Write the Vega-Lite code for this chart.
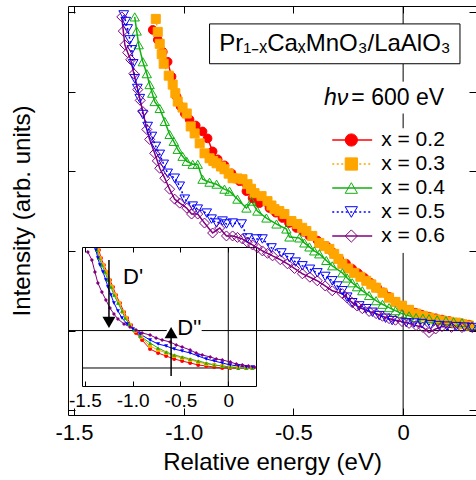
{
  "$schema": "https://vega.github.io/schema/vega-lite/v6.json",
  "width": 408,
  "height": 409,
  "autosize": {"type": "none"},
  "padding": {"left": 68, "top": 6, "right": 0, "bottom": 65},
  "background": "white",
  "config": {
    "font": "Liberation Sans",
    "view": {"stroke": "black", "strokeWidth": 1},
    "legend": {"disable": true},
    "axis": {"grid": false, "domain": false, "tickColor": "black", "tickWidth": 1, "labelColor": "black", "titleColor": "black", "titleFontWeight": "normal", "domainColor": "black", "labelFont": "Liberation Sans", "titleFont": "Liberation Sans"}
  },
  "datasets": {
    "vseg": [{"from": 4.075, "to": 3.85}, {"from": 3.35, "to": 3.125}, {"from": 2.725, "to": 2.54}, {"from": 0.975, "to": -1.06}],
    "hseg": [{"from": -1.527, "to": -1.077}, {"from": -0.918, "to": 0.332}],
    "legend": [{"series": "x = 0.2"}, {"series": "x = 0.3"}, {"series": "x = 0.4"}, {"series": "x = 0.5"}, {"series": "x = 0.6"}],
    "main": [
      {"series":"x = 0.2","energy":-1.141,"intensity":3.775},{"series":"x = 0.2","energy":-1.118,"intensity":3.65},{"series":"x = 0.2","energy":-1.095,"intensity":3.5},{"series":"x = 0.2","energy":-1.073,"intensity":3.375},{"series":"x = 0.2","energy":-1.055,"intensity":3.188},{"series":"x = 0.2","energy":-1.032,"intensity":2.938},{"series":"x = 0.2","energy":-1.014,"intensity":2.813},{"series":"x = 0.2","energy":-0.995,"intensity":2.725},{"series":"x = 0.2","energy":-0.973,"intensity":2.65},{"series":"x = 0.2","energy":-0.945,"intensity":2.575},{"series":"x = 0.2","energy":-0.914,"intensity":2.5},{"series":"x = 0.2","energy":-0.891,"intensity":2.413},{"series":"x = 0.2","energy":-0.868,"intensity":2.25},{"series":"x = 0.2","energy":-0.845,"intensity":2.15},{"series":"x = 0.2","energy":-0.814,"intensity":2.075},{"series":"x = 0.2","energy":-0.782,"intensity":1.975},{"series":"x = 0.2","energy":-0.745,"intensity":1.875},{"series":"x = 0.2","energy":-0.714,"intensity":1.75},{"series":"x = 0.2","energy":-0.686,"intensity":1.663},{"series":"x = 0.2","energy":-0.655,"intensity":1.6},{"series":"x = 0.2","energy":-0.609,"intensity":1.538},{"series":"x = 0.2","energy":-0.58,"intensity":1.48},{"series":"x = 0.2","energy":-0.55,"intensity":1.413},{"series":"x = 0.2","energy":-0.52,"intensity":1.35},{"series":"x = 0.2","energy":-0.486,"intensity":1.288},{"series":"x = 0.2","energy":-0.455,"intensity":1.24},{"series":"x = 0.2","energy":-0.427,"intensity":1.188},{"series":"x = 0.2","energy":-0.39,"intensity":1.13},{"series":"x = 0.2","energy":-0.35,"intensity":1.063},{"series":"x = 0.2","energy":-0.32,"intensity":0.98},{"series":"x = 0.2","energy":-0.291,"intensity":0.9},{"series":"x = 0.2","energy":-0.26,"intensity":0.84},{"series":"x = 0.2","energy":-0.232,"intensity":0.775},{"series":"x = 0.2","energy":-0.205,"intensity":0.72},{"series":"x = 0.2","energy":-0.177,"intensity":0.663},{"series":"x = 0.2","energy":-0.148,"intensity":0.6},{"series":"x = 0.2","energy":-0.118,"intensity":0.538},{"series":"x = 0.2","energy":-0.09,"intensity":0.48},{"series":"x = 0.2","energy":-0.064,"intensity":0.425},{"series":"x = 0.2","energy":-0.035,"intensity":0.36},{"series":"x = 0.2","energy":-0.005,"intensity":0.3},{"series":"x = 0.2","energy":0.025,"intensity":0.26},{"series":"x = 0.2","energy":0.055,"intensity":0.225},{"series":"x = 0.2","energy":0.085,"intensity":0.2},{"series":"x = 0.2","energy":0.118,"intensity":0.175},{"series":"x = 0.2","energy":0.148,"intensity":0.155},{"series":"x = 0.2","energy":0.177,"intensity":0.138},{"series":"x = 0.2","energy":0.21,"intensity":0.12},{"series":"x = 0.2","energy":0.241,"intensity":0.1},{"series":"x = 0.2","energy":0.27,"intensity":0.09},{"series":"x = 0.2","energy":0.3,"intensity":0.075},
      {"series":"x = 0.3","energy":-1.127,"intensity":3.913},{"series":"x = 0.3","energy":-1.118,"intensity":3.75},{"series":"x = 0.3","energy":-1.109,"intensity":3.6},{"series":"x = 0.3","energy":-1.1,"intensity":3.47},{"series":"x = 0.3","energy":-1.091,"intensity":3.35},{"series":"x = 0.3","energy":-1.068,"intensity":3.2},{"series":"x = 0.3","energy":-1.05,"intensity":3.088},{"series":"x = 0.3","energy":-1.038,"intensity":2.98},{"series":"x = 0.3","energy":-1.027,"intensity":2.875},{"series":"x = 0.3","energy":-1.005,"intensity":2.8},{"series":"x = 0.3","energy":-0.986,"intensity":2.725},{"series":"x = 0.3","energy":-0.968,"intensity":2.563},{"series":"x = 0.3","energy":-0.95,"intensity":2.475},{"series":"x = 0.3","energy":-0.927,"intensity":2.35},{"series":"x = 0.3","energy":-0.905,"intensity":2.225},{"series":"x = 0.3","energy":-0.882,"intensity":2.163},{"series":"x = 0.3","energy":-0.865,"intensity":2.13},{"series":"x = 0.3","energy":-0.85,"intensity":2.1},{"series":"x = 0.3","energy":-0.83,"intensity":2.06},{"series":"x = 0.3","energy":-0.814,"intensity":2.025},{"series":"x = 0.3","energy":-0.795,"intensity":1.97},{"series":"x = 0.3","energy":-0.777,"intensity":1.913},{"series":"x = 0.3","energy":-0.755,"intensity":1.91},{"series":"x = 0.3","energy":-0.732,"intensity":1.9},{"series":"x = 0.3","energy":-0.709,"intensity":1.838},{"series":"x = 0.3","energy":-0.693,"intensity":1.78},{"series":"x = 0.3","energy":-0.677,"intensity":1.725},{"series":"x = 0.3","energy":-0.645,"intensity":1.688},{"series":"x = 0.3","energy":-0.618,"intensity":1.625},{"series":"x = 0.3","energy":-0.6,"intensity":1.57},{"series":"x = 0.3","energy":-0.586,"intensity":1.525},{"series":"x = 0.3","energy":-0.564,"intensity":1.5},{"series":"x = 0.3","energy":-0.541,"intensity":1.463},{"series":"x = 0.3","energy":-0.509,"intensity":1.375},{"series":"x = 0.3","energy":-0.482,"intensity":1.338},{"series":"x = 0.3","energy":-0.46,"intensity":1.29},{"series":"x = 0.3","energy":-0.441,"intensity":1.25},{"series":"x = 0.3","energy":-0.414,"intensity":1.188},{"series":"x = 0.3","energy":-0.382,"intensity":1.1},{"series":"x = 0.3","energy":-0.36,"intensity":1.06},{"series":"x = 0.3","energy":-0.336,"intensity":1.025},{"series":"x = 0.3","energy":-0.314,"intensity":0.963},{"series":"x = 0.3","energy":-0.295,"intensity":0.9},{"series":"x = 0.3","energy":-0.277,"intensity":0.838},{"series":"x = 0.3","energy":-0.25,"intensity":0.78},{"series":"x = 0.3","energy":-0.223,"intensity":0.725},{"series":"x = 0.3","energy":-0.195,"intensity":0.675},{"series":"x = 0.3","energy":-0.168,"intensity":0.625},{"series":"x = 0.3","energy":-0.145,"intensity":0.58},{"series":"x = 0.3","energy":-0.123,"intensity":0.538},{"series":"x = 0.3","energy":-0.094,"intensity":0.475},{"series":"x = 0.3","energy":-0.064,"intensity":0.413},{"series":"x = 0.3","energy":-0.035,"intensity":0.36},{"series":"x = 0.3","energy":-0.005,"intensity":0.313},{"series":"x = 0.3","energy":0.027,"intensity":0.26},{"series":"x = 0.3","energy":0.059,"intensity":0.213},{"series":"x = 0.3","energy":0.09,"intensity":0.185},{"series":"x = 0.3","energy":0.118,"intensity":0.163},{"series":"x = 0.3","energy":0.148,"intensity":0.14},{"series":"x = 0.3","energy":0.177,"intensity":0.125},{"series":"x = 0.3","energy":0.21,"intensity":0.11},{"series":"x = 0.3","energy":0.241,"intensity":0.1},{"series":"x = 0.3","energy":0.27,"intensity":0.08},{"series":"x = 0.3","energy":0.3,"intensity":0.063},
      {"series":"x = 0.4","energy":-1.223,"intensity":3.938},{"series":"x = 0.4","energy":-1.214,"intensity":3.76},{"series":"x = 0.4","energy":-1.205,"intensity":3.588},{"series":"x = 0.4","energy":-1.186,"intensity":3.375},{"series":"x = 0.4","energy":-1.168,"intensity":3.225},{"series":"x = 0.4","energy":-1.155,"intensity":3.088},{"series":"x = 0.4","energy":-1.143,"intensity":2.98},{"series":"x = 0.4","energy":-1.132,"intensity":2.875},{"series":"x = 0.4","energy":-1.109,"intensity":2.788},{"series":"x = 0.4","energy":-1.086,"intensity":2.625},{"series":"x = 0.4","energy":-1.064,"intensity":2.463},{"series":"x = 0.4","energy":-1.045,"intensity":2.375},{"series":"x = 0.4","energy":-1.027,"intensity":2.275},{"series":"x = 0.4","energy":-1.005,"intensity":2.188},{"series":"x = 0.4","energy":-0.986,"intensity":2.125},{"series":"x = 0.4","energy":-0.959,"intensity":2.088},{"series":"x = 0.4","energy":-0.936,"intensity":2.088},{"series":"x = 0.4","energy":-0.914,"intensity":1.9},{"series":"x = 0.4","energy":-0.882,"intensity":1.863},{"series":"x = 0.4","energy":-0.85,"intensity":1.838},{"series":"x = 0.4","energy":-0.814,"intensity":1.775},{"series":"x = 0.4","energy":-0.791,"intensity":1.75},{"series":"x = 0.4","energy":-0.755,"intensity":1.65},{"series":"x = 0.4","energy":-0.714,"intensity":1.538},{"series":"x = 0.4","energy":-0.691,"intensity":1.625},{"series":"x = 0.4","energy":-0.664,"intensity":1.5},{"series":"x = 0.4","energy":-0.623,"intensity":1.413},{"series":"x = 0.4","energy":-0.577,"intensity":1.338},{"series":"x = 0.4","energy":-0.532,"intensity":1.275},{"series":"x = 0.4","energy":-0.518,"intensity":1.175},{"series":"x = 0.4","energy":-0.473,"intensity":1.163},{"series":"x = 0.4","energy":-0.45,"intensity":1.1},{"series":"x = 0.4","energy":-0.427,"intensity":1.05},{"series":"x = 0.4","energy":-0.405,"intensity":1.0},{"series":"x = 0.4","energy":-0.382,"intensity":0.963},{"series":"x = 0.4","energy":-0.35,"intensity":0.88},{"series":"x = 0.4","energy":-0.323,"intensity":0.813},{"series":"x = 0.4","energy":-0.277,"intensity":0.725},{"series":"x = 0.4","energy":-0.255,"intensity":0.66},{"series":"x = 0.4","energy":-0.232,"intensity":0.6},{"series":"x = 0.4","energy":-0.21,"intensity":0.55},{"series":"x = 0.4","energy":-0.186,"intensity":0.5},{"series":"x = 0.4","energy":-0.155,"intensity":0.44},{"series":"x = 0.4","energy":-0.123,"intensity":0.375},{"series":"x = 0.4","energy":-0.094,"intensity":0.33},{"series":"x = 0.4","energy":-0.064,"intensity":0.288},{"series":"x = 0.4","energy":-0.035,"intensity":0.25},{"series":"x = 0.4","energy":-0.005,"intensity":0.213},{"series":"x = 0.4","energy":0.027,"intensity":0.185},{"series":"x = 0.4","energy":0.059,"intensity":0.163},{"series":"x = 0.4","energy":0.09,"intensity":0.155},{"series":"x = 0.4","energy":0.118,"intensity":0.15},{"series":"x = 0.4","energy":0.155,"intensity":0.135},{"series":"x = 0.4","energy":0.195,"intensity":0.125},{"series":"x = 0.4","energy":0.23,"intensity":0.11},{"series":"x = 0.4","energy":0.268,"intensity":0.1},{"series":"x = 0.4","energy":0.314,"intensity":0.063},
      {"series":"x = 0.5","energy":-1.273,"intensity":3.963},{"series":"x = 0.5","energy":-1.264,"intensity":3.88},{"series":"x = 0.5","energy":-1.255,"intensity":3.788},{"series":"x = 0.5","energy":-1.245,"intensity":3.65},{"series":"x = 0.5","energy":-1.236,"intensity":3.525},{"series":"x = 0.5","energy":-1.23,"intensity":3.35},{"series":"x = 0.5","energy":-1.223,"intensity":3.163},{"series":"x = 0.5","energy":-1.211,"intensity":3.04},{"series":"x = 0.5","energy":-1.2,"intensity":2.913},{"series":"x = 0.5","energy":-1.186,"intensity":2.713},{"series":"x = 0.5","energy":-1.164,"intensity":2.563},{"series":"x = 0.5","energy":-1.145,"intensity":2.438},{"series":"x = 0.5","energy":-1.127,"intensity":2.313},{"series":"x = 0.5","energy":-1.109,"intensity":2.213},{"series":"x = 0.5","energy":-1.091,"intensity":2.088},{"series":"x = 0.5","energy":-1.073,"intensity":1.975},{"series":"x = 0.5","energy":-1.041,"intensity":1.913},{"series":"x = 0.5","energy":-1.018,"intensity":1.813},{"series":"x = 0.5","energy":-0.995,"intensity":1.65},{"series":"x = 0.5","energy":-0.959,"intensity":1.563},{"series":"x = 0.5","energy":-0.936,"intensity":1.525},{"series":"x = 0.5","energy":-0.895,"intensity":1.475},{"series":"x = 0.5","energy":-0.873,"intensity":1.4},{"series":"x = 0.5","energy":-0.85,"intensity":1.35},{"series":"x = 0.5","energy":-0.823,"intensity":1.375},{"series":"x = 0.5","energy":-0.805,"intensity":1.338},{"series":"x = 0.5","energy":-0.777,"intensity":1.35},{"series":"x = 0.5","energy":-0.736,"intensity":1.338},{"series":"x = 0.5","energy":-0.709,"intensity":1.163},{"series":"x = 0.5","energy":-0.668,"intensity":1.15},{"series":"x = 0.5","energy":-0.641,"intensity":1.15},{"series":"x = 0.5","energy":-0.6,"intensity":1.038},{"series":"x = 0.5","energy":-0.555,"intensity":0.975},{"series":"x = 0.5","energy":-0.518,"intensity":0.913},{"series":"x = 0.5","energy":-0.49,"intensity":0.86},{"series":"x = 0.5","energy":-0.459,"intensity":0.813},{"series":"x = 0.5","energy":-0.425,"intensity":0.77},{"series":"x = 0.5","energy":-0.391,"intensity":0.725},{"series":"x = 0.5","energy":-0.355,"intensity":0.68},{"series":"x = 0.5","energy":-0.323,"intensity":0.625},{"series":"x = 0.5","energy":-0.3,"intensity":0.56},{"series":"x = 0.5","energy":-0.277,"intensity":0.5},{"series":"x = 0.5","energy":-0.255,"intensity":0.42},{"series":"x = 0.5","energy":-0.232,"intensity":0.35},{"series":"x = 0.5","energy":-0.2,"intensity":0.31},{"series":"x = 0.5","energy":-0.168,"intensity":0.275},{"series":"x = 0.5","energy":-0.14,"intensity":0.23},{"series":"x = 0.5","energy":-0.109,"intensity":0.188},{"series":"x = 0.5","energy":-0.08,"intensity":0.155},{"series":"x = 0.5","energy":-0.05,"intensity":0.125},{"series":"x = 0.5","energy":0.014,"intensity":0.1},{"series":"x = 0.5","energy":0.05,"intensity":0.095},{"series":"x = 0.5","energy":0.086,"intensity":0.088},{"series":"x = 0.5","energy":0.125,"intensity":0.075},{"series":"x = 0.5","energy":0.164,"intensity":0.063},{"series":"x = 0.5","energy":0.2,"intensity":0.056},{"series":"x = 0.5","energy":0.241,"intensity":0.05},{"series":"x = 0.5","energy":0.28,"intensity":0.044},{"series":"x = 0.5","energy":0.314,"intensity":0.038},
      {"series":"x = 0.6","energy":-1.282,"intensity":3.938},{"series":"x = 0.6","energy":-1.275,"intensity":3.76},{"series":"x = 0.6","energy":-1.268,"intensity":3.588},{"series":"x = 0.6","energy":-1.255,"intensity":3.49},{"series":"x = 0.6","energy":-1.241,"intensity":3.4},{"series":"x = 0.6","energy":-1.227,"intensity":3.225},{"series":"x = 0.6","energy":-1.209,"intensity":3.025},{"series":"x = 0.6","energy":-1.198,"intensity":2.89},{"series":"x = 0.6","energy":-1.186,"intensity":2.75},{"series":"x = 0.6","energy":-1.168,"intensity":2.525},{"series":"x = 0.6","energy":-1.155,"intensity":2.4},{"series":"x = 0.6","energy":-1.132,"intensity":2.225},{"series":"x = 0.6","energy":-1.12,"intensity":2.13},{"series":"x = 0.6","energy":-1.109,"intensity":2.038},{"series":"x = 0.6","energy":-1.086,"intensity":1.913},{"series":"x = 0.6","energy":-1.064,"intensity":1.775},{"series":"x = 0.6","energy":-1.041,"intensity":1.65},{"series":"x = 0.6","energy":-1.018,"intensity":1.6},{"series":"x = 0.6","energy":-0.986,"intensity":1.538},{"series":"x = 0.6","energy":-0.964,"intensity":1.463},{"series":"x = 0.6","energy":-0.936,"intensity":1.463},{"series":"x = 0.6","energy":-0.905,"intensity":1.35},{"series":"x = 0.6","energy":-0.868,"intensity":1.225},{"series":"x = 0.6","energy":-0.836,"intensity":1.288},{"series":"x = 0.6","energy":-0.805,"intensity":1.188},{"series":"x = 0.6","energy":-0.777,"intensity":1.188},{"series":"x = 0.6","energy":-0.755,"intensity":1.17},{"series":"x = 0.6","energy":-0.732,"intensity":1.15},{"series":"x = 0.6","energy":-0.71,"intensity":1.11},{"series":"x = 0.6","energy":-0.686,"intensity":1.075},{"series":"x = 0.6","energy":-0.664,"intensity":1.04},{"series":"x = 0.6","energy":-0.641,"intensity":1.0},{"series":"x = 0.6","energy":-0.618,"intensity":0.97},{"series":"x = 0.6","energy":-0.595,"intensity":0.938},{"series":"x = 0.6","energy":-0.56,"intensity":0.89},{"series":"x = 0.6","energy":-0.527,"intensity":0.838},{"series":"x = 0.6","energy":-0.495,"intensity":0.78},{"series":"x = 0.6","energy":-0.459,"intensity":0.713},{"series":"x = 0.6","energy":-0.425,"intensity":0.67},{"series":"x = 0.6","energy":-0.391,"intensity":0.625},{"series":"x = 0.6","energy":-0.355,"intensity":0.56},{"series":"x = 0.6","energy":-0.323,"intensity":0.5},{"series":"x = 0.6","energy":-0.277,"intensity":0.463},{"series":"x = 0.6","energy":-0.255,"intensity":0.41},{"series":"x = 0.6","energy":-0.232,"intensity":0.35},{"series":"x = 0.6","energy":-0.21,"intensity":0.31},{"series":"x = 0.6","energy":-0.186,"intensity":0.275},{"series":"x = 0.6","energy":-0.155,"intensity":0.24},{"series":"x = 0.6","energy":-0.123,"intensity":0.213},{"series":"x = 0.6","energy":-0.094,"intensity":0.18},{"series":"x = 0.6","energy":-0.064,"intensity":0.15},{"series":"x = 0.6","energy":-0.035,"intensity":0.13},{"series":"x = 0.6","energy":-0.005,"intensity":0.113},{"series":"x = 0.6","energy":0.027,"intensity":0.09},{"series":"x = 0.6","energy":0.059,"intensity":0.063},{"series":"x = 0.6","energy":0.09,"intensity":0.04},{"series":"x = 0.6","energy":0.118,"intensity":-0.025},{"series":"x = 0.6","energy":0.148,"intensity":0.02},{"series":"x = 0.6","energy":0.177,"intensity":0.05},{"series":"x = 0.6","energy":0.22,"intensity":0.04},{"series":"x = 0.6","energy":0.268,"intensity":0.038},{"series":"x = 0.6","energy":0.314,"intensity":0.038}
    ],
    "inset": [
      {"series":"x = 0.2","energy":-1.353,"intensity":0.983},{"series":"x = 0.2","energy":-1.332,"intensity":0.917},{"series":"x = 0.2","energy":-1.301,"intensity":0.858},{"series":"x = 0.2","energy":-1.269,"intensity":0.8},{"series":"x = 0.2","energy":-1.238,"intensity":0.733},{"series":"x = 0.2","energy":-1.206,"intensity":0.675},{"series":"x = 0.2","energy":-1.175,"intensity":0.608},{"series":"x = 0.2","energy":-1.133,"intensity":0.542},{"series":"x = 0.2","energy":-1.091,"intensity":0.467},{"series":"x = 0.2","energy":-1.059,"intensity":0.417},{"series":"x = 0.2","energy":-1.017,"intensity":0.358},{"series":"x = 0.2","energy":-0.965,"intensity":0.292},{"series":"x = 0.2","energy":-0.902,"intensity":0.233},{"series":"x = 0.2","energy":-0.818,"intensity":0.158},{"series":"x = 0.2","energy":-0.734,"intensity":0.125},{"series":"x = 0.2","energy":-0.65,"intensity":0.1},{"series":"x = 0.2","energy":-0.566,"intensity":0.075},{"series":"x = 0.2","energy":-0.483,"intensity":0.058},{"series":"x = 0.2","energy":-0.399,"intensity":0.042},{"series":"x = 0.2","energy":-0.315,"intensity":0.025},{"series":"x = 0.2","energy":-0.231,"intensity":0.017},{"series":"x = 0.2","energy":-0.147,"intensity":0.008},{"series":"x = 0.2","energy":-0.063,"intensity":0},{"series":"x = 0.2","energy":0.021,"intensity":0},{"series":"x = 0.2","energy":0.105,"intensity":0},{"series":"x = 0.2","energy":0.189,"intensity":0},{"series":"x = 0.2","energy":0.252,"intensity":0},
      {"series":"x = 0.3","energy":-1.364,"intensity":0.983},{"series":"x = 0.3","energy":-1.343,"intensity":0.917},{"series":"x = 0.3","energy":-1.311,"intensity":0.858},{"series":"x = 0.3","energy":-1.28,"intensity":0.8},{"series":"x = 0.3","energy":-1.248,"intensity":0.733},{"series":"x = 0.3","energy":-1.217,"intensity":0.675},{"series":"x = 0.3","energy":-1.185,"intensity":0.608},{"series":"x = 0.3","energy":-1.143,"intensity":0.542},{"series":"x = 0.3","energy":-1.101,"intensity":0.467},{"series":"x = 0.3","energy":-1.07,"intensity":0.417},{"series":"x = 0.3","energy":-1.028,"intensity":0.358},{"series":"x = 0.3","energy":-0.976,"intensity":0.308},{"series":"x = 0.3","energy":-0.913,"intensity":0.258},{"series":"x = 0.3","energy":-0.818,"intensity":0.183},{"series":"x = 0.3","energy":-0.734,"intensity":0.15},{"series":"x = 0.3","energy":-0.65,"intensity":0.125},{"series":"x = 0.3","energy":-0.566,"intensity":0.1},{"series":"x = 0.3","energy":-0.483,"intensity":0.083},{"series":"x = 0.3","energy":-0.399,"intensity":0.067},{"series":"x = 0.3","energy":-0.315,"intensity":0.05},{"series":"x = 0.3","energy":-0.231,"intensity":0.033},{"series":"x = 0.3","energy":-0.147,"intensity":0.025},{"series":"x = 0.3","energy":-0.063,"intensity":0.017},{"series":"x = 0.3","energy":0.021,"intensity":0.008},{"series":"x = 0.3","energy":0.105,"intensity":0.008},{"series":"x = 0.3","energy":0.189,"intensity":0},{"series":"x = 0.3","energy":0.252,"intensity":0},
      {"series":"x = 0.4","energy":-1.374,"intensity":0.983},{"series":"x = 0.4","energy":-1.353,"intensity":0.917},{"series":"x = 0.4","energy":-1.322,"intensity":0.858},{"series":"x = 0.4","energy":-1.29,"intensity":0.8},{"series":"x = 0.4","energy":-1.259,"intensity":0.733},{"series":"x = 0.4","energy":-1.227,"intensity":0.675},{"series":"x = 0.4","energy":-1.196,"intensity":0.608},{"series":"x = 0.4","energy":-1.154,"intensity":0.542},{"series":"x = 0.4","energy":-1.112,"intensity":0.475},{"series":"x = 0.4","energy":-1.08,"intensity":0.417},{"series":"x = 0.4","energy":-1.038,"intensity":0.367},{"series":"x = 0.4","energy":-0.986,"intensity":0.317},{"series":"x = 0.4","energy":-0.923,"intensity":0.267},{"series":"x = 0.4","energy":-0.818,"intensity":0.208},{"series":"x = 0.4","energy":-0.734,"intensity":0.167},{"series":"x = 0.4","energy":-0.65,"intensity":0.133},{"series":"x = 0.4","energy":-0.566,"intensity":0.108},{"series":"x = 0.4","energy":-0.483,"intensity":0.092},{"series":"x = 0.4","energy":-0.399,"intensity":0.075},{"series":"x = 0.4","energy":-0.315,"intensity":0.058},{"series":"x = 0.4","energy":-0.231,"intensity":0.042},{"series":"x = 0.4","energy":-0.147,"intensity":0.025},{"series":"x = 0.4","energy":-0.063,"intensity":0.017},{"series":"x = 0.4","energy":0.021,"intensity":0.008},{"series":"x = 0.4","energy":0.105,"intensity":0},{"series":"x = 0.4","energy":0.189,"intensity":0},{"series":"x = 0.4","energy":0.252,"intensity":0},
      {"series":"x = 0.5","energy":-1.385,"intensity":0.983},{"series":"x = 0.5","energy":-1.364,"intensity":0.917},{"series":"x = 0.5","energy":-1.343,"intensity":0.858},{"series":"x = 0.5","energy":-1.311,"intensity":0.8},{"series":"x = 0.5","energy":-1.28,"intensity":0.733},{"series":"x = 0.5","energy":-1.259,"intensity":0.675},{"series":"x = 0.5","energy":-1.227,"intensity":0.608},{"series":"x = 0.5","energy":-1.196,"intensity":0.542},{"series":"x = 0.5","energy":-1.154,"intensity":0.475},{"series":"x = 0.5","energy":-1.112,"intensity":0.417},{"series":"x = 0.5","energy":-1.059,"intensity":0.367},{"series":"x = 0.5","energy":-0.997,"intensity":0.325},{"series":"x = 0.5","energy":-0.923,"intensity":0.283},{"series":"x = 0.5","energy":-0.818,"intensity":0.233},{"series":"x = 0.5","energy":-0.734,"intensity":0.2},{"series":"x = 0.5","energy":-0.65,"intensity":0.183},{"series":"x = 0.5","energy":-0.566,"intensity":0.158},{"series":"x = 0.5","energy":-0.483,"intensity":0.142},{"series":"x = 0.5","energy":-0.399,"intensity":0.125},{"series":"x = 0.5","energy":-0.315,"intensity":0.1},{"series":"x = 0.5","energy":-0.231,"intensity":0.075},{"series":"x = 0.5","energy":-0.147,"intensity":0.058},{"series":"x = 0.5","energy":-0.063,"intensity":0.042},{"series":"x = 0.5","energy":0.021,"intensity":0.025},{"series":"x = 0.5","energy":0.105,"intensity":0.017},{"series":"x = 0.5","energy":0.189,"intensity":0.008},{"series":"x = 0.5","energy":0.252,"intensity":0.008},
      {"series":"x = 0.6","energy":-1.469,"intensity":0.967},{"series":"x = 0.6","energy":-1.427,"intensity":0.9},{"series":"x = 0.6","energy":-1.395,"intensity":0.8},{"series":"x = 0.6","energy":-1.364,"intensity":0.708},{"series":"x = 0.6","energy":-1.322,"intensity":0.633},{"series":"x = 0.6","energy":-1.28,"intensity":0.567},{"series":"x = 0.6","energy":-1.238,"intensity":0.5},{"series":"x = 0.6","energy":-1.196,"intensity":0.45},{"series":"x = 0.6","energy":-1.154,"intensity":0.408},{"series":"x = 0.6","energy":-1.091,"intensity":0.367},{"series":"x = 0.6","energy":-1.028,"intensity":0.342},{"series":"x = 0.6","energy":-0.965,"intensity":0.317},{"series":"x = 0.6","energy":-0.902,"intensity":0.292},{"series":"x = 0.6","energy":-0.818,"intensity":0.275},{"series":"x = 0.6","energy":-0.755,"intensity":0.25},{"series":"x = 0.6","energy":-0.692,"intensity":0.233},{"series":"x = 0.6","energy":-0.608,"intensity":0.217},{"series":"x = 0.6","energy":-0.545,"intensity":0.192},{"series":"x = 0.6","energy":-0.483,"intensity":0.175},{"series":"x = 0.6","energy":-0.399,"intensity":0.15},{"series":"x = 0.6","energy":-0.336,"intensity":0.125},{"series":"x = 0.6","energy":-0.273,"intensity":0.108},{"series":"x = 0.6","energy":-0.189,"intensity":0.092},{"series":"x = 0.6","energy":-0.126,"intensity":0.075},{"series":"x = 0.6","energy":-0.063,"intensity":0.067},{"series":"x = 0.6","energy":0.021,"intensity":0.05},{"series":"x = 0.6","energy":0.084,"intensity":0.033},{"series":"x = 0.6","energy":0.147,"intensity":0.025},{"series":"x = 0.6","energy":0.21,"intensity":0.017},{"series":"x = 0.6","energy":0.273,"intensity":0.008}
    ]
  },
  "resolve": {"scale": {"x": "independent", "y": "independent"}, "axis": {"x": "independent", "y": "independent"}},
  "layer": [
    {
      "layer": [
        {
          "data": {"name": "vseg"},
          "mark": {"type": "rule", "color": "black", "strokeWidth": 1},
          "encoding": {
            "x": {"datum": 0, "type": "quantitative", "scale": {"domain": [-1.527, 0.332], "nice": false, "zero": false},
              "axis": {"orient": "bottom", "values": [-1.5, -1, -0.5, 0], "tickSize": -7, "labelFontSize": 22, "labelPadding": 14, "labelFlush": false, "labelOverlap": false,
                "labelExpr": "datum.value == 0 ? '0' : replace(format(datum.value, '.1f'), '−', '-')",
                "title": "Relative energy (eV)", "titleFontSize": 24, "titlePadding": 7}},
            "y": {"field": "from", "type": "quantitative", "scale": {"domain": [-1.06, 4.075], "nice": false, "zero": false},
              "axis": {"orient": "left", "values": [-1, 0, 1, 2, 3, 4], "tickSize": -7, "labels": false, "title": "Intensity (arb. units)", "titleFontSize": 24, "titlePadding": 33}},
            "y2": {"field": "to"}
          }
        },
        {
          "data": {"name": "hseg"},
          "mark": {"type": "rule", "color": "black", "strokeWidth": 1},
          "encoding": {
            "x": {"field": "from", "type": "quantitative"},
            "x2": {"field": "to"},
            "y": {"datum": 0, "type": "quantitative"}
          }
        },
        {
          "data": {"name": "main"},
          "mark": {"type": "line", "strokeWidth": 1.5},
          "encoding": {
            "x": {"field": "energy", "type": "quantitative"},
            "y": {"field": "intensity", "type": "quantitative"},
            "stroke": {"field": "series", "type": "nominal", "scale": {"domain": ["x = 0.2", "x = 0.3", "x = 0.4", "x = 0.5", "x = 0.6"], "range": ["#ff0000", "#ffa500", "#11b011", "#0000ff", "#800080"]}},
            "strokeDash": {"field": "series", "type": "nominal", "scale": {"domain": ["x = 0.2", "x = 0.3", "x = 0.4", "x = 0.5", "x = 0.6"], "range": [[1, 0], [2, 2.5], [1, 0], [2, 2.5], [1, 0]]}}
          }
        },
        {
          "data": {"name": "main"},
          "mark": {"type": "point", "filled": true, "opacity": 1, "strokeWidth": 1},
          "encoding": {
            "x": {"field": "energy", "type": "quantitative"},
            "y": {"field": "intensity", "type": "quantitative"},
            "stroke": {"field": "series", "type": "nominal"},
            "fill": {"field": "series", "type": "nominal", "scale": {"domain": ["x = 0.2", "x = 0.3", "x = 0.4", "x = 0.5", "x = 0.6"], "range": ["#ff0000", "#ffa500", "transparent", "transparent", "transparent"]}},
            "shape": {"field": "series", "type": "nominal", "scale": {"domain": ["x = 0.2", "x = 0.3", "x = 0.4", "x = 0.5", "x = 0.6"], "range": ["circle", "square", "triangle-up", "triangle-down", "diamond"]}},
            "size": {"field": "series", "type": "ordinal", "scale": {"domain": ["x = 0.2", "x = 0.3", "x = 0.4", "x = 0.5", "x = 0.6"], "range": [75, 100, 75, 75, 65]}}
          }
        },
        {
          "data": {"values": [{}]},
          "mark": {"type": "rect", "fill": "white", "stroke": "black", "strokeWidth": 1},
          "encoding": {
            "x": {"datum": -0.882, "type": "quantitative"},
            "x2": {"datum": 0.259},
            "y": {"datum": 3.85, "type": "quantitative"},
            "y2": {"datum": 3.35}
          }
        },
        {
          "data": {"values": [{}]},
          "mark": {"type": "text", "text": "Pr₁₋ₓCaₓMnO₃/LaAlO₃", "fontSize": 24, "align": "center", "baseline": "middle", "color": "black"},
          "encoding": {
            "x": {"datum": -0.311, "type": "quantitative"},
            "y": {"datum": 3.6, "type": "quantitative"}
          }
        },
        {
          "data": {"values": [{}]},
          "mark": {"type": "text", "text": "hν", "fontSize": 23, "fontStyle": "italic", "align": "right", "baseline": "alphabetic", "color": "black"},
          "encoding": {
            "x": {"datum": -0.25, "type": "quantitative"},
            "y": {"datum": 2.838, "type": "quantitative"}
          }
        },
        {
          "data": {"values": [{}]},
          "mark": {"type": "text", "text": "= 600 eV", "fontSize": 23, "align": "left", "baseline": "alphabetic", "color": "black"},
          "encoding": {
            "x": {"datum": -0.236, "type": "quantitative"},
            "y": {"datum": 2.838, "type": "quantitative"}
          }
        }
      ]
    },
    {
      "data": {"values": [{}]},
      "mark": {"type": "rule", "opacity": 0},
      "encoding": {
        "x": {"datum": 0, "type": "quantitative", "scale": {"domain": [-1.527, 0.332], "nice": false, "zero": false},
          "axis": {"orient": "top", "values": [-1.5, -1, -0.5, 0], "tickSize": -7, "labels": false, "title": null}},
        "y": {"datum": 0, "type": "quantitative", "scale": {"domain": [-1.06, 4.075], "nice": false, "zero": false},
          "axis": {"orient": "right", "values": [-1, 0, 1, 2, 3, 4], "tickSize": -7, "labels": false, "title": null}}
      }
    },
    {
      "layer": [
        {
          "data": {"values": [{}]},
          "mark": {"type": "rule", "color": "black", "strokeWidth": 1},
          "encoding": {
            "x": {"datum": -1.53, "type": "quantitative", "scale": {"domain": [-1.53, 0.29], "range": [14, 188], "nice": false, "zero": false},
              "axis": {"orient": "bottom", "offset": -29, "values": [-1.5, -1, -0.5, 0], "tickSize": -5, "domain": true, "labelFontSize": 19, "labelPadding": 10, "labelFlush": false, "labelOverlap": false,
                "labelExpr": "datum.value == 0 ? '0' : replace(format(datum.value, '.1f'), '−', '-')", "title": null}},
            "x2": {"datum": 0.29},
            "y": {"datum": 0, "type": "quantitative", "scale": {"domain": [-0.15, 1.008], "range": [380, 241], "nice": false, "zero": false},
              "axis": {"orient": "left", "offset": -14, "ticks": false, "labels": false, "domain": true, "title": null}}
          }
        },
        {
          "data": {"values": [{}]},
          "mark": {"type": "rule", "color": "black", "strokeWidth": 1},
          "encoding": {
            "x": {"datum": 0, "type": "quantitative"},
            "y": {"datum": -0.15, "type": "quantitative"},
            "y2": {"datum": 1.008}
          }
        },
        {
          "data": {"name": "inset"},
          "mark": {"type": "line", "strokeWidth": 1},
          "encoding": {
            "x": {"field": "energy", "type": "quantitative"},
            "y": {"field": "intensity", "type": "quantitative"},
            "color": {"field": "series", "type": "nominal", "scale": {"domain": ["x = 0.2", "x = 0.3", "x = 0.4", "x = 0.5", "x = 0.6"], "range": ["#ff0000", "#ffa500", "#11b011", "#0000ff", "#800080"]}}
          }
        },
        {
          "data": {"name": "inset"},
          "mark": {"type": "point", "filled": true, "opacity": 1, "size": 16},
          "encoding": {
            "x": {"field": "energy", "type": "quantitative"},
            "y": {"field": "intensity", "type": "quantitative"},
            "color": {"field": "series", "type": "nominal"},
            "shape": {"field": "series", "type": "nominal"}
          }
        },
        {
          "data": {"values": [{}]},
          "mark": {"type": "rule", "color": "black", "strokeWidth": 1.5},
          "encoding": {
            "x": {"datum": -1.248, "type": "quantitative"},
            "y": {"datum": 0.9, "type": "quantitative"},
            "y2": {"datum": 0.4}
          }
        },
        {
          "data": {"values": [{}]},
          "mark": {"type": "point", "shape": "triangle-down", "filled": true, "color": "black", "opacity": 1, "size": 169},
          "encoding": {
            "x": {"datum": -1.248, "type": "quantitative"},
            "y": {"datum": 0.38, "type": "quantitative"}
          }
        },
        {
          "data": {"values": [{}]},
          "mark": {"type": "rule", "color": "black", "strokeWidth": 1.5},
          "encoding": {
            "x": {"datum": -0.598, "type": "quantitative"},
            "y": {"datum": -0.067, "type": "quantitative"},
            "y2": {"datum": 0.28}
          }
        },
        {
          "data": {"values": [{}]},
          "mark": {"type": "point", "shape": "triangle-up", "filled": true, "color": "black", "opacity": 1, "size": 169},
          "encoding": {
            "x": {"datum": -0.598, "type": "quantitative"},
            "y": {"datum": 0.295, "type": "quantitative"}
          }
        },
        {
          "data": {"values": [{}]},
          "mark": {"type": "text", "text": "D'", "fontSize": 22, "align": "left", "baseline": "alphabetic", "color": "black"},
          "encoding": {
            "x": {"datum": -1.101, "type": "quantitative"},
            "y": {"datum": 0.7, "type": "quantitative"}
          }
        },
        {
          "data": {"values": [{}]},
          "mark": {"type": "text", "text": "D''", "fontSize": 22, "align": "left", "baseline": "alphabetic", "color": "black"},
          "encoding": {
            "x": {"datum": -0.535, "type": "quantitative"},
            "y": {"datum": 0.275, "type": "quantitative"}
          }
        }
      ]
    },
    {
      "data": {"values": [{}]},
      "mark": {"type": "rule", "opacity": 0},
      "encoding": {
        "x": {"datum": 0, "type": "quantitative", "scale": {"domain": [-1.53, 0.29], "range": [14, 188], "nice": false, "zero": false},
          "axis": {"orient": "top", "offset": -241, "values": [-1.5, -1, -0.5, 0], "tickSize": -5, "domain": true, "labels": false, "title": null}},
        "y": {"datum": 0, "type": "quantitative", "scale": {"domain": [-0.15, 1.008], "range": [380, 241], "nice": false, "zero": false},
          "axis": {"orient": "right", "offset": -220, "ticks": false, "labels": false, "domain": true, "title": null}}
      }
    },
    {
      "data": {"name": "legend"},
      "layer": [
        {
          "mark": {"type": "rule", "strokeWidth": 1.5},
          "encoding": {
            "x": {"datum": -0.323, "type": "quantitative", "scale": {"domain": [-1.527, 0.332], "nice": false, "zero": false}, "axis": null},
            "x2": {"datum": -0.141},
            "y": {"field": "series", "type": "ordinal", "scale": {"type": "point", "domain": ["x = 0.2", "x = 0.3", "x = 0.4", "x = 0.5", "x = 0.6"], "range": [134, 230], "padding": 0}, "axis": null},
            "stroke": {"field": "series", "type": "nominal"},
            "strokeDash": {"field": "series", "type": "nominal"}
          }
        },
        {
          "mark": {"type": "point", "filled": true, "opacity": 1, "size": 150, "strokeWidth": 1},
          "encoding": {
            "x": {"datum": -0.236, "type": "quantitative"},
            "y": {"field": "series", "type": "ordinal"},
            "stroke": {"field": "series", "type": "nominal"},
            "fill": {"field": "series", "type": "nominal"},
            "shape": {"field": "series", "type": "nominal"}
          }
        },
        {
          "mark": {"type": "text", "fontSize": 21, "align": "left", "baseline": "middle", "color": "black"},
          "encoding": {
            "x": {"datum": -0.1, "type": "quantitative"},
            "y": {"field": "series", "type": "ordinal"},
            "text": {"field": "series", "type": "nominal"}
          }
        }
      ]
    }
  ]
}
